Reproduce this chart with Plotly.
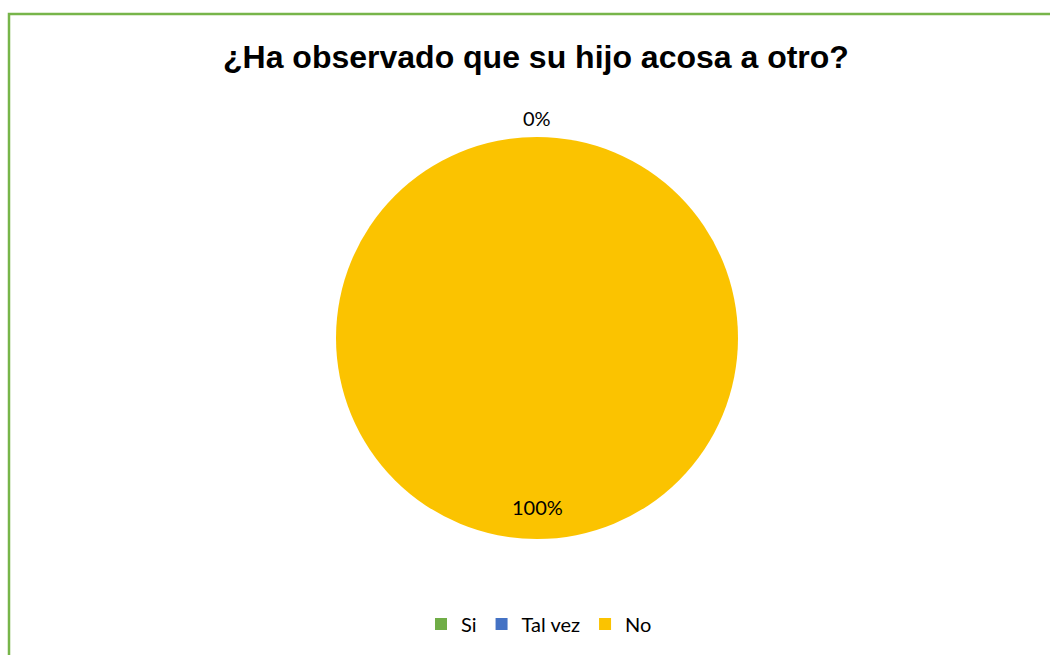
import plotly.graph_objects as go

categories = ["Si", "Tal vez", "No"]
values = [0, 0, 100]
colors = ["#70AD47", "#4472C4", "#FBC300"]
title_text = "¿Ha observado que su hijo acosa a otro?"

W, H = 1050, 655
cx, cy, r = 537, 338, 201  # pie center/radius in px

dom_x = [(cx - r) / W, (cx + r) / W]
dom_y = [(H - (cy + r)) / H, (H - (cy - r)) / H]

total = sum(values)
pct = [f"{v / total * 100:.0f}%" for v in values]

label_font = dict(family="Lato, Open Sans, sans-serif", size=20, color="#000000")

fig = go.Figure()
fig.add_trace(go.Pie(
    labels=categories,
    values=values,
    marker=dict(colors=colors, line=dict(width=0)),
    sort=False,
    direction="clockwise",
    rotation=0,
    textinfo="none",
    hoverinfo="label+percent",
    domain=dict(x=dom_x, y=dom_y),
    showlegend=True,
))

annotations = [
    dict(x=cx / W, y=(H - 118) / H, xref="paper", yref="paper",
         xanchor="center", yanchor="middle",
         text=pct[0], showarrow=False, font=label_font),
    dict(x=cx / W, y=(H - 507) / H, xref="paper", yref="paper",
         xanchor="center", yanchor="middle",
         text=pct[2], showarrow=False, font=label_font),
    dict(x=536 / W, y=(H - 57) / H, xref="paper", yref="paper",
         xanchor="center", yanchor="middle",
         text="<b>" + title_text + "</b>", showarrow=False,
         font=dict(family="Liberation Sans, Arial, sans-serif", size=32, color="#000000")),
]

fig.update_layout(
    width=W, height=H,
    margin=dict(l=0, r=0, t=0, b=0),
    paper_bgcolor="white",
    plot_bgcolor="white",
    annotations=annotations,
    legend=dict(
        orientation="h",
        x=539 / W, xanchor="center",
        y=(H - 624) / H, yanchor="middle",
        font=label_font,
        itemwidth=30,
        tracegroupgap=0,
    ),
    shapes=[dict(
        type="rect", xref="paper", yref="paper",
        x0=9 / W, x1=1.02, y0=-0.02, y1=(H - 14) / H,
        line=dict(color="#77B54A", width=2.5),
        fillcolor="rgba(0,0,0,0)",
    )],
)

fig.write_html("out.html", config={"displayModeBar": False})

# remove default body margin so the figure sits at the page origin
with open("out.html", "r", encoding="utf-8") as f:
    html = f.read()
html = html.replace("<body>", '<body style="margin:0;padding:0;">', 1)
with open("out.html", "w", encoding="utf-8") as f:
    f.write(html)
